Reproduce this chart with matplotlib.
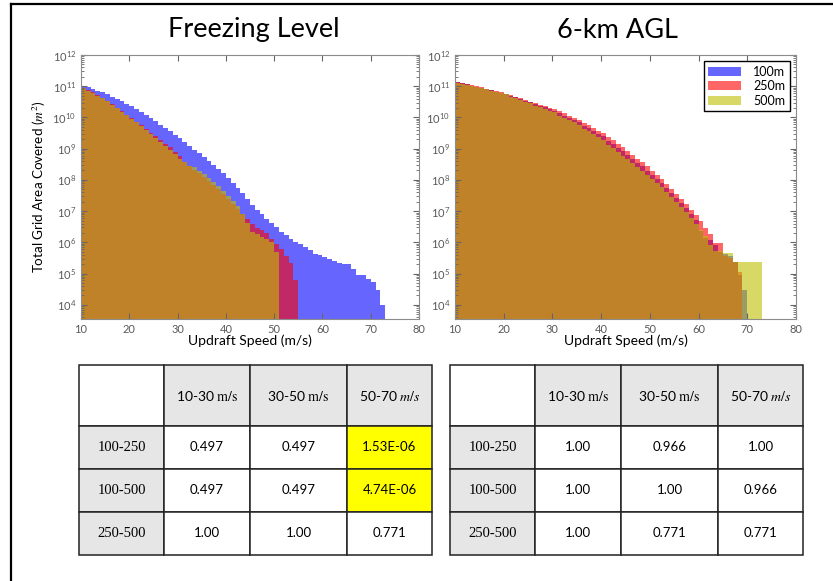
import numpy as np
import matplotlib
matplotlib.use('Agg')
import matplotlib.pyplot as plt
from matplotlib.lines import Line2D
from matplotlib.ticker import LogLocator, NullFormatter

plt.rcParams['font.family'] = ['Lato', 'DejaVu Sans']
plt.rcParams['mathtext.fontset'] = 'stix'

W, H = 833, 581

# 1 m/s bins starting at 10 m/s; values are log10 of total area (m^2)
bin_start = 10

fl_100m = [11.02, 10.96, 10.91, 10.86, 10.80, 10.74, 10.67, 10.60, 10.52, 10.44,
           10.36, 10.27, 10.18, 10.08, 9.98, 9.88, 9.77, 9.66, 9.55, 9.44,
           9.33, 9.21, 9.09, 8.97, 8.85, 8.73, 8.61, 8.49, 8.36, 8.22,
           8.07, 7.91, 7.75, 7.58, 7.40, 7.20, 7.03, 6.90, 6.76, 6.62,
           6.49, 6.33, 6.23, 6.12, 6.01, 5.96, 5.85, 5.74, 5.64, 5.58,
           5.53, 5.48, 5.40, 5.35, 5.32, 5.30, 5.16, 4.94, 4.94, 4.84,
           4.73, 4.46, 4.00]
fl_250m = [10.95, 10.88, 10.80, 10.72, 10.63, 10.54, 10.42, 10.31, 10.20, 10.09,
           9.98, 9.87, 9.75, 9.62, 9.49, 9.40, 9.28, 9.16, 9.04, 8.90,
           8.75, 8.57, 8.44, 8.33, 8.21, 8.09, 7.97, 7.85, 7.70, 7.55,
           7.38, 7.22, 7.06, 6.90, 6.76, 6.60, 6.45, 6.38, 6.30, 6.10,
           5.95, 5.78, 5.55, 5.35, 4.78]
fl_500m = [10.93, 10.86, 10.78, 10.70, 10.61, 10.52, 10.40, 10.29, 10.18, 10.07,
           9.96, 9.85, 9.73, 9.60, 9.47, 9.34, 9.21, 9.08, 8.95, 8.82,
           8.68, 8.56, 8.44, 8.41, 8.30, 8.18, 8.06, 7.94, 7.79, 7.64,
           7.47, 7.31, 7.15, 6.92, 6.62, 6.33, 6.28, 6.17, 6.12, 6.00,
           5.69]

agl_100m = [11.12, 11.09, 11.06, 11.02, 10.99, 10.95, 10.91, 10.87, 10.83, 10.79,
            10.75, 10.69, 10.64, 10.59, 10.54, 10.49, 10.42, 10.37, 10.32, 10.27,
            10.22, 10.13, 10.06, 9.99, 9.92, 9.84, 9.73, 9.65, 9.57, 9.48,
            9.39, 9.25, 9.14, 9.03, 8.91, 8.79, 8.67, 8.55, 8.43, 8.30,
            8.17, 8.03, 7.89, 7.74, 7.59, 7.43, 7.27, 7.10, 6.92, 6.73,
            6.35, 6.15, 6.09, 5.93, 5.70, 5.62, 5.55, 5.38, 4.95, 4.48]
agl_250m = [11.13, 11.10, 11.07, 11.03, 11.00, 10.96, 10.92, 10.88, 10.84, 10.80,
            10.76, 10.71, 10.66, 10.61, 10.56, 10.51, 10.46, 10.41, 10.36, 10.31,
            10.26, 10.20, 10.13, 10.06, 9.99, 9.91, 9.83, 9.75, 9.67, 9.58,
            9.49, 9.38, 9.27, 9.16, 9.04, 8.92, 8.80, 8.68, 8.56, 8.43,
            8.30, 8.16, 8.02, 7.87, 7.72, 7.56, 7.40, 7.23, 7.05, 6.86,
            6.67, 6.46, 6.27, 5.98, 5.98, 5.55, 5.50, 5.38, 5.06]
agl_500m = [11.11, 11.08, 11.05, 11.01, 10.98, 10.94, 10.90, 10.86, 10.82, 10.78,
            10.74, 10.66, 10.61, 10.56, 10.51, 10.46, 10.37, 10.32, 10.27, 10.22,
            10.17, 10.06, 9.99, 9.92, 9.85, 9.77, 9.63, 9.55, 9.47, 9.38,
            9.29, 9.12, 9.01, 8.90, 8.78, 8.66, 8.54, 8.42, 8.30, 8.17,
            8.04, 7.90, 7.76, 7.61, 7.46, 7.30, 7.14, 6.97, 6.79, 6.60,
            6.41, 6.20, 5.93, 5.72, 5.72, 5.67, 5.67, 5.38, 5.38, 5.38,
            5.38, 5.38, 5.38]

series_labels = ['100m', '250m', '500m']
series_colors = ['b', 'r', 'y']
speed_ticks = [10, 20, 30, 40, 50, 60, 70, 80]

col_labels = ['', r'10-30 $\mathrm{m/s}$', r'30-50 $\mathrm{m/s}$', r'50-70 $m/s$']
row_labels = ['100-250', '100-500', '250-500']
fl_table = [['0.497', '0.497', '1.53E-06'],
            ['0.497', '0.497', '4.74E-06'],
            ['1.00', '1.00', '0.771']]
agl_table = [['1.00', '0.966', '1.00'],
             ['1.00', '1.00', '0.966'],
             ['1.00', '0.771', '0.771']]
fl_highlight = [(1, 3), (2, 3)]


def px_axes(x0, y0, x1, y1):
    return fig.add_axes([x0 / W, 1 - y1 / H, (x1 - x0) / W, (y1 - y0) / H])


def draw_hist(ax, datasets, title, cx, ylabel=False, legend=False):
    for vals, lab, col in zip(datasets, series_labels, series_colors):
        vals = 10 ** np.array(vals)
        edges = np.arange(bin_start, bin_start + len(vals) + 1)
        ax.stairs(vals, edges, fill=True, baseline=1, color=col, alpha=0.6,
                  linewidth=0, label=lab)
    ax.set_yscale('log')
    ax.set_ylim(3.5e3, 1e12)
    ax.set_xlim(10, 80)
    ax.set_xticks(speed_ticks)
    ax.yaxis.set_major_locator(LogLocator(base=10, numticks=20))
    ax.yaxis.set_minor_locator(LogLocator(base=10, subs=np.arange(2, 10), numticks=20))
    ax.yaxis.set_minor_formatter(NullFormatter())
    ax.tick_params(which='both', direction='in', top=True, right=True,
                   labelsize=8, labelcolor='0.35', color='0.4')
    ax.tick_params(which='major', length=4)
    ax.tick_params(which='minor', length=2)
    for s in ax.spines.values():
        s.set_color('0.55')
    ax.set_xlabel('Updraft Speed (m/s)', fontsize=10, labelpad=0)
    if ylabel:
        ax.set_ylabel('Total Grid Area Covered ($m^2$)', fontsize=9.7, labelpad=3)
    if legend:
        ax.legend(loc='upper right', fontsize=9, fancybox=False, edgecolor='black',
                  framealpha=1, handlelength=2.6, borderpad=0.35, labelspacing=0.2,
                  handletextpad=1.0)
    fig.text(cx / W, 1 - 30 / H, title, fontsize=19.5, ha='center', va='center')


def draw_table(ax, values, highlight):
    ax.axis('off')
    cells = [col_labels] + [[r] + v for r, v in zip(row_labels, values)]
    tbl = ax.table(cellText=cells, cellLoc='center', bbox=[0, 0, 1, 1])
    tbl.auto_set_font_size(False)
    widths = [85, 86, 97, 85]
    heights = [61, 42, 43, 43]
    for (r, c), cell in tbl.get_celld().items():
        cell.set_width(widths[c])
        cell.set_height(heights[r])
        cell.set_edgecolor('#222222')
        cell.set_linewidth(1.1)
        txt = cell.get_text()
        txt.set_fontsize(9.5)
        if (r == 0 and c > 0) or (c == 0 and r > 0):
            cell.set_facecolor('#e6e6e6')
        if r == 0:
            txt.set_fontsize(10)
        if c == 0 and r > 0:
            txt.set_fontfamily('Liberation Serif')
            txt.set_fontsize(10.5)
        if (r, c) in highlight:
            cell.set_facecolor('#ffff00')


fig = plt.figure(figsize=(W / 100, H / 100), dpi=100)

ax1 = px_axes(81, 55, 419, 319)
draw_hist(ax1, [fl_100m, fl_250m, fl_500m], 'Freezing Level', 254, ylabel=True)
ax2 = px_axes(455, 55, 796, 319)
draw_hist(ax2, [agl_100m, agl_250m, agl_500m], '6-km AGL', 617, legend=True)

t1 = px_axes(79, 365, 432, 555)
draw_table(t1, fl_table, fl_highlight)
t2 = px_axes(450, 365, 803, 555)
draw_table(t2, agl_table, [])

# slide frame
fig.add_artist(Line2D([11 / W, 11 / W], [0, 1 - 4 / H], color='black', lw=1.6,
                      transform=fig.transFigure))
fig.add_artist(Line2D([11 / W, 1], [1 - 4 / H, 1 - 4 / H], color='black', lw=1.6,
                      transform=fig.transFigure))

fig.savefig('out.png', dpi=100)
